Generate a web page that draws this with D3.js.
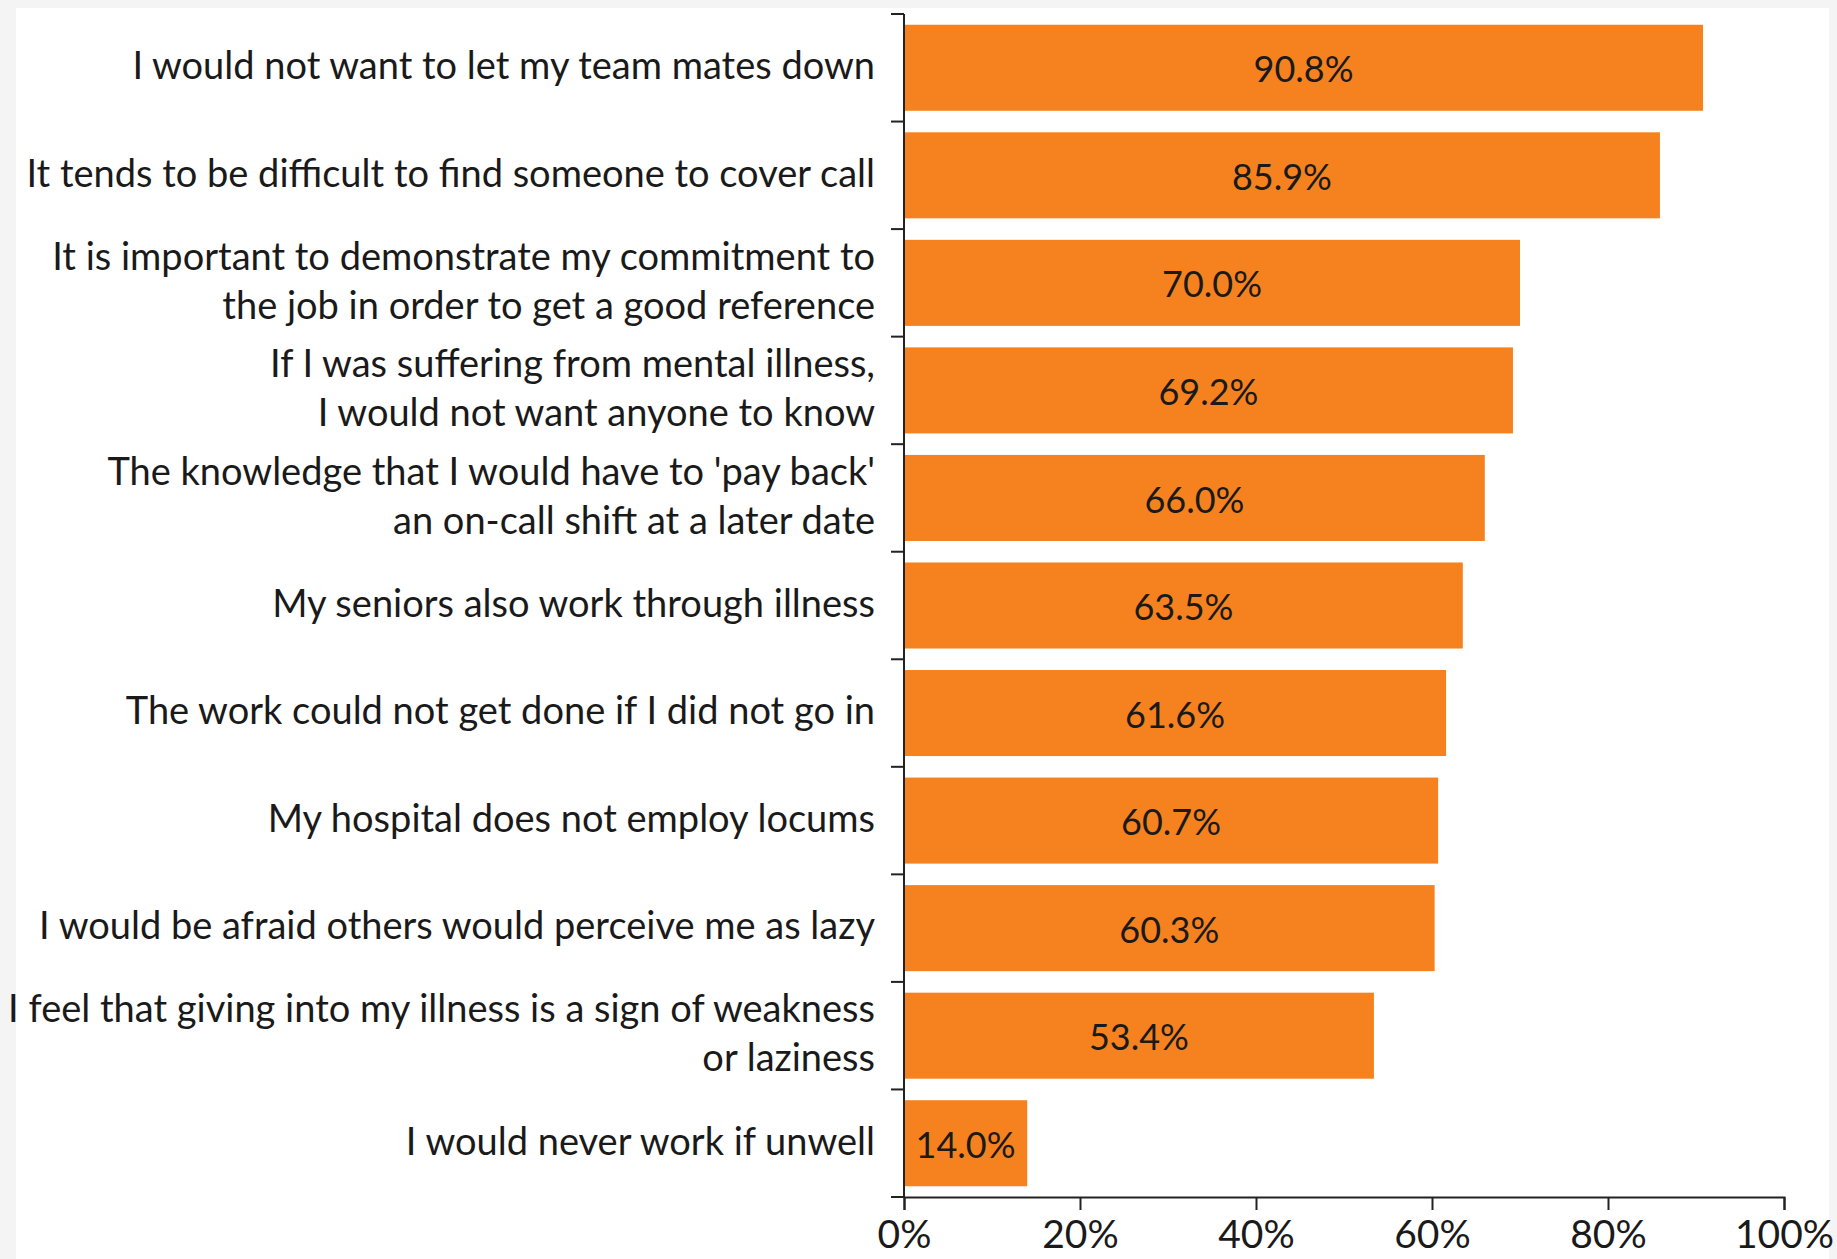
<!DOCTYPE html>
<html>
<head>
<meta charset="utf-8">
<script src="https://cdn.jsdelivr.net/npm/d3@7"></script>
<style>
body { margin:0; background:#f4f4f4; }
svg { display:block; }
</style>
</head>
<body>
<svg id="graph"></svg>
<script>
// reasons for working while unwell, % of respondents
var categories = [
    ["I would not want to let my team mates down"],
    ["It tends to be difficult to find someone to cover call"],
    ["It is important to demonstrate my commitment to", "the job in order to get a good reference"],
    ["If I was suffering from mental illness,", "I would not want anyone to know"],
    ["The knowledge that I would have to 'pay back'", "an on-call shift at a later date"],
    ["My seniors also work through illness"],
    ["The work could not get done if I did not go in"],
    ["My hospital does not employ locums"],
    ["I would be afraid others would perceive me as lazy"],
    ["I feel that giving into my illness is a sign of weakness", "or laziness"],
    ["I would never work if unwell"]
]
var values = [90.8, 85.9, 70.0, 69.2, 66.0, 63.5, 61.6, 60.7, 60.3, 53.4, 14.0]
var xTicks = [0, 20, 40, 60, 80, 100]

var screen = {width:1837, height:1259}
var margin = {top:14, left:904, right:53, bottom:62}
var font = "Lato, 'Open Sans', sans-serif"

var svg = d3.select("#graph")
    .attr("width", screen.width)
    .attr("height", screen.height)

svg.append("rect")
    .attr("x", 16)
    .attr("y", 8)
    .attr("width", screen.width - 24)
    .attr("height", screen.height - 8)
    .attr("fill", "white")

var xscale = d3.scaleLinear()
    .domain([0, 100])
    .range([margin.left, screen.width - margin.right])

var yscale = d3.scaleBand()
    .domain(d3.range(categories.length))
    .range([margin.top, screen.height - margin.bottom])
    .paddingInner(0.2)
    .paddingOuter(0.1)

svg.append("g")
    .selectAll("rect")
    .data(values)
    .enter()
    .append("rect")
    .attr("x", xscale(0))
    .attr("y", function(d, i) { return yscale(i) })
    .attr("width", function(d) { return xscale(d) - xscale(0) })
    .attr("height", yscale.bandwidth())
    .attr("fill", "#f5821f")

svg.append("g")
    .selectAll("text")
    .data(values)
    .enter()
    .append("text")
    .attr("x", function(d) { return (xscale(d) + xscale(0)) / 2 })
    .attr("y", function(d, i) { return yscale(i) + yscale.bandwidth() / 2 + 2 })
    .attr("dy", "0.35em")
    .attr("text-anchor", "middle")
    .style("font-family", font)
    .style("font-size", "36px")
    .attr("fill", "#1a1a1a")
    .text(function(d) { return d.toFixed(1) + "%" })

// category labels, one or two lines each
var step = yscale.step()
var labels = svg.append("g")
    .selectAll("text")
    .data(categories)
    .enter()
    .append("text")
    .attr("text-anchor", "end")
    .style("font-family", font)
    .style("font-size", "38px")
    .attr("fill", "#1a1a1a")

labels.selectAll("tspan")
    .data(function(lines, i) {
        return lines.map(function(t, j) { return {t:t, j:j, n:lines.length, i:i} })
    })
    .enter()
    .append("tspan")
    .attr("x", xscale(0) - 29)
    .attr("y", function(d) {
        var mid = yscale(d.i) + yscale.bandwidth() / 2 - 2
        return mid + (d.j - (d.n - 1) / 2) * 49
    })
    .attr("dy", "0.35em")
    .text(function(d) { return d.t })

// y axis with ticks between categories
var yTop = yscale.range()[0]
var yBot = yscale.range()[1]
svg.append("line")
    .attr("x1", xscale(0)).attr("x2", xscale(0))
    .attr("y1", yTop).attr("y2", yBot)
    .attr("stroke", "#222").attr("stroke-width", 2)

svg.append("g")
    .selectAll("line")
    .data(d3.range(categories.length + 1))
    .enter()
    .append("line")
    .attr("x1", xscale(0) - 13).attr("x2", xscale(0))
    .attr("y1", function(i) { return yTop + i * step })
    .attr("y2", function(i) { return yTop + i * step })
    .attr("stroke", "#222").attr("stroke-width", 2)

var xAxis = d3.axisBottom(xscale)
    .tickValues(xTicks)
    .tickSize(13)
    .tickPadding(10)
    .tickFormat(function(d) { return d + "%" })

var gx = svg.append("g")
    .attr("transform", "translate(0," + yBot + ")")
    .call(xAxis)

gx.select(".domain").attr("stroke", "#222").attr("stroke-width", 2)
gx.selectAll(".tick line").attr("stroke", "#222").attr("stroke-width", 2)
gx.selectAll(".tick text")
    .style("font-family", font)
    .style("font-size", "39px")
    .attr("fill", "#1a1a1a")
</script>
</body>
</html>
